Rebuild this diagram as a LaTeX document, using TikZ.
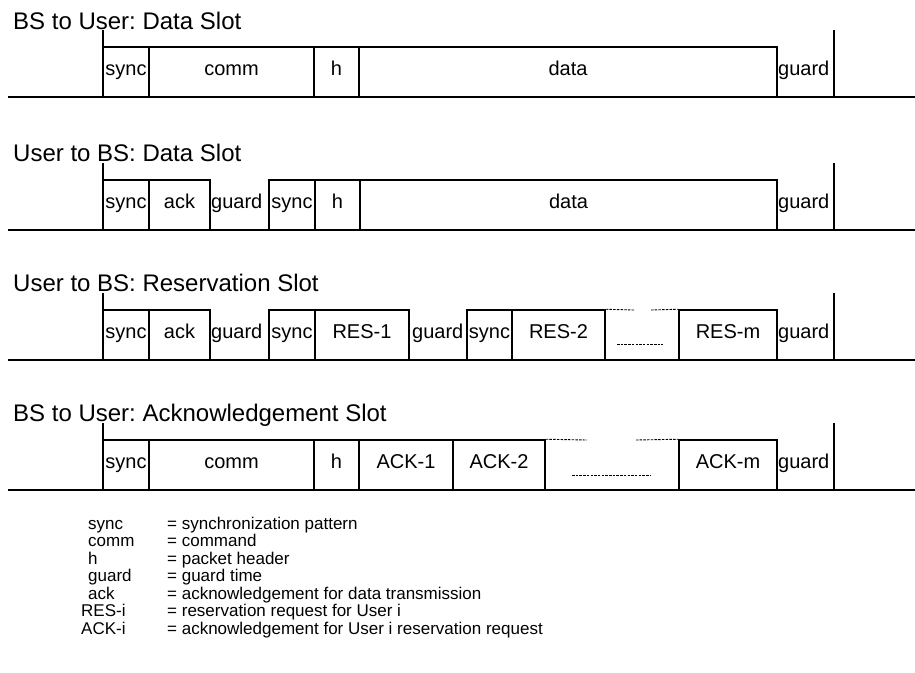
\documentclass[tikz,border=0pt]{standalone}
\usepackage{fontspec}
\setmainfont{Liberation Sans}
\begin{document}
\frenchspacing
\begin{tikzpicture}[x=1pt,y=-1pt,
  rule/.style={line width=1.5pt},
  fld/.style={draw, line width=1.5pt, inner sep=0pt, minimum height=50,
    text height=15pt, text depth=9pt, font=\fontsize{20}{24}\selectfont},
  gap/.style={anchor=base west, inner sep=0pt, font=\fontsize{20}{24}\selectfont},
  ttl/.style={anchor=base west, inner sep=0pt, font=\fontsize{24}{28}\selectfont},
  dots/.style={line width=0.9pt, dash pattern=on 2.5pt off 1.2pt},
  key/.style={anchor=base west, inner sep=0pt, font=\fontsize{17}{19}\selectfont}]
\useasboundingbox (0,0) rectangle (915,672);

% one field of a slot: name, left x, right x, baseline y, text
\newcommand\slotfield[5]{%
  \node[fld, minimum width={(#3)-(#2)}] (#1) at ({((#2)+(#3))/2},{(#4)-25}) {#5};}
% time axis of a slot with its start and end marks
\newcommand\slotaxis[2]{%
  \coordinate (#1L) at (8,#2);
  \coordinate (#1R) at (915,#2);
  \coordinate (#1s0) at (103,#2);
  \coordinate (#1s1) at (103,{(#2)-67});
  \coordinate (#1e0) at (834,#2);
  \coordinate (#1e1) at (834,{(#2)-67});
  \draw[rule] (#1L) -- (#1R);
  \draw[rule] (#1s0) -- (#1s1);
  \draw[rule] (#1e0) -- (#1e1);}

% ---- BS to User: Data Slot
\node[ttl] (tA) at (13,29) {BS to User: Data Slot};
\slotaxis{a}{97}
\slotfield{aS}{103}{149}{97}{sync}
\slotfield{aC}{149}{314}{97}{comm}
\slotfield{aH}{314}{359}{97}{h}
\slotfield{aD}{359}{777}{97}{data}
\node[gap] (aG) at (778,75) {guard};

% ---- User to BS: Data Slot
\node[ttl] (tB) at (13,161) {User to BS: Data Slot};
\slotaxis{b}{230}
\slotfield{bS1}{103}{149}{230}{sync}
\slotfield{bA}{149}{210}{230}{ack}
\node[gap] (bG1) at (211,208) {guard};
\slotfield{bS2}{269}{315}{230}{sync}
\slotfield{bH}{315}{360}{230}{h}
\slotfield{bD}{360}{777}{230}{data}
\node[gap] (bG2) at (778,208) {guard};

% ---- User to BS: Reservation Slot
\node[ttl] (tC) at (13,291) {User to BS: Reservation Slot};
\slotaxis{c}{360}
\slotfield{cS1}{103}{149}{360}{sync}
\slotfield{cA}{149}{210}{360}{ack}
\node[gap] (cG1) at (211,338) {guard};
\slotfield{cS2}{269}{315}{360}{sync}
\slotfield{cR1}{315}{409}{360}{RES-1}
\node[gap] (cG2) at (412,338) {guard};
\slotfield{cS3}{467}{512}{360}{sync}
\slotfield{cR2}{512}{605}{360}{RES-2}
\slotfield{cRm}{679}{777}{360}{RES-m}
\node[gap] (cG3) at (778,338) {guard};
\coordinate (cd1) at (634,310);
\coordinate (cd2) at (651,310);
\coordinate (cd3) at (617,344);
\coordinate (cd4) at (663,344);
\draw[dots] (cR2.north east) -- (cd1);
\draw[dots] (cd2) -- (cRm.north west);
\draw[dots] (cd3) -- (cd4);

% ---- BS to User: Acknowledgement Slot
\node[ttl] (tD) at (13,421) {BS to User: Acknowledgement Slot};
\slotaxis{d}{490}
\slotfield{dS}{103}{149}{490}{sync}
\slotfield{dC}{149}{314}{490}{comm}
\slotfield{dH}{314}{359}{490}{h}
\slotfield{dK1}{359}{453}{490}{ACK-1}
\slotfield{dK2}{453}{545}{490}{ACK-2}
\slotfield{dKm}{679}{777}{490}{ACK-m}
\node[gap] (dG) at (778,468) {guard};
\coordinate (dd1) at (587,440);
\coordinate (dd2) at (636,440);
\coordinate (dd3) at (572,475);
\coordinate (dd4) at (650,475);
\draw[dots] (dK2.north east) -- (dd1);
\draw[dots] (dd2) -- (dKm.north west);
\draw[dots] (dd3) -- (dd4);

% ---- abbreviations
\node[key] (k1) at (88,529) {sync};
\node[key] (v1) at (167,529) {= synchronization pattern};
\node[key] (k2) at (88,546.5) {comm};
\node[key] (v2) at (167,546.5) {= command};
\node[key] (k3) at (88,564) {h};
\node[key] (v3) at (167,564) {= packet header};
\node[key] (k4) at (88,581.5) {guard};
\node[key] (v4) at (167,581.5) {= guard time};
\node[key] (k5) at (88,599) {ack};
\node[key] (v5) at (167,599) {= acknowledgement for data transmission};
\node[key] (k6) at (81,616.5) {RES-i};
\node[key] (v6) at (167,616.5) {= reservation request for User i};
\node[key] (k7) at (81,634) {ACK-i};
\node[key] (v7) at (167,634) {= acknowledgement for User i reservation request};
\end{tikzpicture}
\end{document}
